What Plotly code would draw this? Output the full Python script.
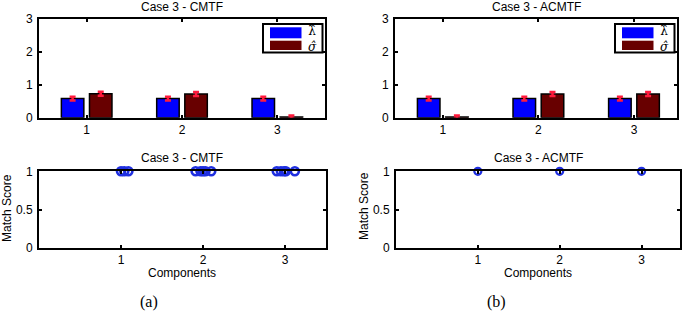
import plotly.graph_objects as go

W, H = 685, 314

# ---------------- data ----------------
components = [1, 2, 3]
cmtf_lambda = [0.58, 0.58, 0.58]
cmtf_sigma = [0.73, 0.72, 0.02]
cmtf_lambda_err = [0.06, 0.06, 0.06]
cmtf_sigma_err = [0.06, 0.06, 0.05]

acmtf_lambda = [0.58, 0.58, 0.58]
acmtf_sigma = [0.02, 0.72, 0.72]
acmtf_lambda_err = [0.06, 0.06, 0.06]
acmtf_sigma_err = [0.05, 0.06, 0.06]

cmtf_match_x = [1.0, 1.04, 1.09, 1.91, 1.97, 2.0, 2.03, 2.10, 2.90, 2.95, 2.99, 3.01, 3.12]
cmtf_match_y = [1, 1, 1, 1, 1, 1, 1, 1, 1, 1, 1, 1, 1]
acmtf_match_x = [1, 2, 3]
acmtf_match_y = [1, 1, 1]

bar_ticks = [0, 1, 2, 3]
score_ticks = [0, 0.5, 1]
score_tick_text = ["0", "0.5", "1"]

BLUE = "#0000ff"
DARKRED = "#680000"
ERR = "#ff1a3c"
MARK = "#1f2fe0"
FONT = "Liberation Sans, Arial, sans-serif"


def px_x(p):
    return p / W


def px_y(p):
    return 1 - p / H


fig = go.Figure()

# domains (pixel based)
dom = {
    "x": (39, 325), "y": (19, 117.7),
    "x2": (395, 677), "y2": (19, 117.7),
    "x3": (39, 326), "y3": (171.3, 247.7),
    "x4": (396, 680), "y4": (171.3, 247.7),
}


def add_bars(lam, sig, lam_err, sig_err, xa, ya):
    fig.add_trace(go.Bar(
        x=components, y=lam, xaxis=xa, yaxis=ya, name="λ̂",
        marker=dict(color=BLUE, line=dict(color="black", width=1.5)),
        error_y=dict(type="data", array=lam_err, color=ERR, thickness=2.5, width=3),
        showlegend=False))
    fig.add_trace(go.Bar(
        x=components, y=sig, xaxis=xa, yaxis=ya, name="σ̂",
        marker=dict(color=DARKRED, line=dict(color="black", width=1.5)),
        error_y=dict(type="data", array=sig_err, color=ERR, thickness=2.5, width=3),
        showlegend=False))


add_bars(cmtf_lambda, cmtf_sigma, cmtf_lambda_err, cmtf_sigma_err, "x", "y")
add_bars(acmtf_lambda, acmtf_sigma, acmtf_lambda_err, acmtf_sigma_err, "x2", "y2")

fig.add_trace(go.Scatter(
    x=cmtf_match_x, y=cmtf_match_y, xaxis="x3", yaxis="y3", mode="markers",
    marker=dict(symbol="circle-open", size=8, color=MARK, line=dict(width=2.6, color=MARK)),
    showlegend=False, cliponaxis=False))
fig.add_trace(go.Scatter(
    x=acmtf_match_x, y=acmtf_match_y, xaxis="x4", yaxis="y4", mode="markers",
    marker=dict(symbol="circle-open", size=7, color=MARK, line=dict(width=2.2, color=MARK)),
    showlegend=False, cliponaxis=False))

axis_common = dict(showline=True, linecolor="black", linewidth=2, mirror="ticks",
                   ticks="inside", ticklen=3, tickwidth=1.5, tickcolor="black",
                   showgrid=False, zeroline=False, automargin=False,
                   tickfont=dict(family=FONT, size=12, color="black"))

layout = dict(
    width=W, height=H, margin=dict(l=0, r=0, t=0, b=0),
    paper_bgcolor="white", plot_bgcolor="white",
    barmode="group", bargap=0.41, bargroupgap=0.2,
    showlegend=False,
)

ranges_x = {"x": [0.5, 3.5], "x2": [0.5, 3.45], "x3": [0, 3.5], "x4": [0, 3.47]}
for key in ["x", "x2", "x3", "x4"]:
    name = "xaxis" if key == "x" else "xaxis" + key[1:]
    yk = "y" + key[1:]
    d = dom[key]
    layout[name] = dict(axis_common, domain=[px_x(d[0]), px_x(d[1])], range=ranges_x[key],
                        tickvals=components, ticktext=[str(c) for c in components],
                        anchor=yk, ticklabelstandoff=0)
for key in ["y", "y2", "y3", "y4"]:
    name = "yaxis" if key == "y" else "yaxis" + key[1:]
    xk = "x" + key[1:]
    d = dom[key]
    if key in ("y", "y2"):
        extra = dict(range=[0, 3], tickvals=bar_ticks, ticktext=[str(t) for t in bar_ticks])
    else:
        extra = dict(range=[0, 1], tickvals=score_ticks, ticktext=score_tick_text)
    layout[name] = dict(axis_common, domain=[px_y(d[1]), px_y(d[0])], anchor=xk,
                        ticklabelstandoff=2, **extra)

fig.update_layout(**layout)

ann = []
shapes = []


def text(x, y, s, size=12, family=FONT, angle=0):
    ann.append(dict(x=px_x(x), y=px_y(y), xref="paper", yref="paper", text=s,
                    showarrow=False, xanchor="center", yanchor="middle", textangle=angle,
                    font=dict(family=family, size=size, color="black")))


# titles
text(182, 7, "Case 3 - CMTF")
text(536, 7, "Case 3 - ACMTF")
text(182, 158, "Case 3 - CMTF")
text(538, 158, "Case 3 - ACMTF")
text(7, 208, "Match Score", angle=-90)
text(364, 206, "Match Score", angle=-90)
text(182, 273, "Components")
text(538, 273, "Components")
text(149, 302, "(a)", size=16, family="Liberation Serif, DejaVu Serif, serif")
text(496, 302, "(b)", size=16, family="Liberation Serif, DejaVu Serif, serif")

# legends (manual, MATLAB style wide patches)
for right in (325, 677):
    shapes.append(dict(type="rect", xref="paper", yref="paper",
                       x0=px_x(right - 62), x1=px_x(right - 2.5), y0=px_y(52.5), y1=px_y(24),
                       line=dict(color="black", width=2), fillcolor="white"))
    shapes.append(dict(type="rect", xref="paper", yref="paper",
                       x0=px_x(right - 55), x1=px_x(right - 23.5), y0=px_y(38.3), y1=px_y(27.3),
                       line=dict(width=0), fillcolor=BLUE))
    shapes.append(dict(type="rect", xref="paper", yref="paper",
                       x0=px_x(right - 55), x1=px_x(right - 23.5), y0=px_y(50), y1=px_y(40.7),
                       line=dict(width=0), fillcolor=DARKRED))
    text(right - 13, 38.5, "λ\u0302<br><i>σ\u0302</i>", size=12, family="DejaVu Serif, serif")

fig.update_layout(annotations=ann, shapes=shapes)
fig.write_html("out.html", config={"displayModeBar": False},
               post_script="document.body.style.margin='0px';")
